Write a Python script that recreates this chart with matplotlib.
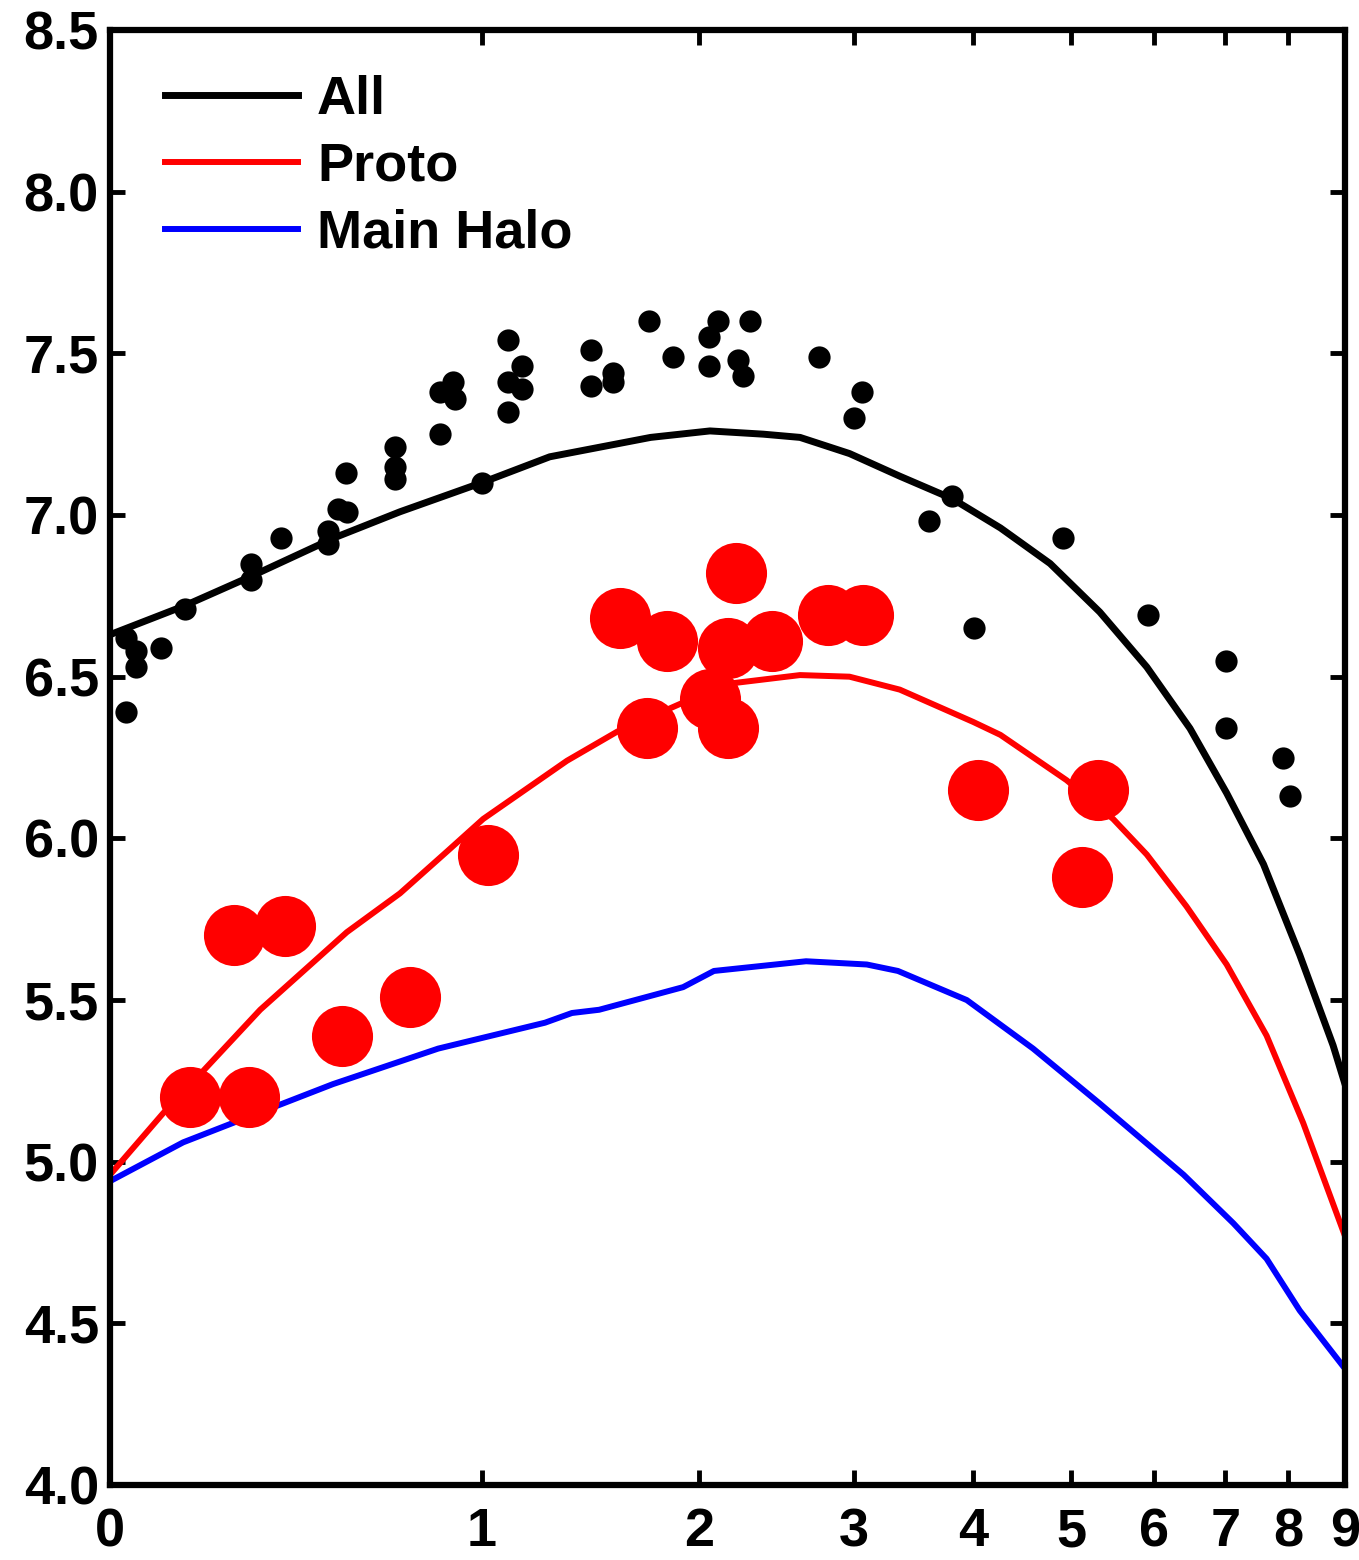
import numpy as np
import matplotlib
matplotlib.use("Agg")
import matplotlib.pyplot as plt

plt.rcParams['font.family'] = ['Liberation Sans', 'DejaVu Sans']
plt.rcParams['font.weight'] = 'bold'

# redshift ticks
z_ticks = [0, 1, 2, 3, 4, 5, 6, 7, 8, 9]
y_ticks = [4.0, 4.5, 5.0, 5.5, 6.0, 6.5, 7.0, 7.5, 8.0, 8.5]

# black points (All)
all_z = [0.03, 0.05, 0.05, 0.03, 0.10, 0.15, 0.30, 0.30, 0.375, 0.50, 0.50, 0.53,
         0.556, 0.553, 0.70, 0.70, 0.70, 0.85, 0.85, 0.896, 0.903, 1.00, 1.10, 1.157,
         1.10, 1.157, 1.10, 1.45, 1.45, 1.554, 1.554, 1.73, 1.857, 2.107, 2.055, 2.055,
         2.30, 2.225, 2.255, 2.75, 3.06, 3.00, 3.60, 3.81, 4.91, 4.01, 5.92, 7.01, 7.01,
         7.91, 8.03]
all_y = [6.62, 6.58, 6.53, 6.39, 6.59, 6.71, 6.85, 6.80, 6.93, 6.95, 6.91, 7.02,
         7.01, 7.13, 7.21, 7.15, 7.11, 7.25, 7.38, 7.41, 7.36, 7.10, 7.54, 7.46,
         7.41, 7.39, 7.32, 7.51, 7.40, 7.44, 7.41, 7.60, 7.49, 7.60, 7.55, 7.46,
         7.60, 7.48, 7.43, 7.49, 7.38, 7.30, 6.98, 7.06, 6.93, 6.65, 6.69, 6.55, 6.34,
         6.25, 6.13]

# red points (Proto)
proto_z = [0.161, 0.296, 0.260, 0.386, 0.541, 0.750, 1.023, 1.588, 1.825, 2.213,
           2.165, 2.436, 2.06, 1.722, 2.165, 2.814, 3.07, 4.045, 5.31, 5.12]
proto_y = [5.20, 5.20, 5.70, 5.73, 5.39, 5.51, 5.95, 6.68, 6.61, 6.82,
           6.59, 6.61, 6.43, 6.34, 6.34, 6.69, 6.69, 6.15, 6.15, 5.88]

# model curves
line_all_z = [0, 0.15, 0.30, 0.52, 0.717, 1.0, 1.27, 1.74, 2.06, 2.38, 2.62, 2.97,
              3.36, 3.81, 4.26, 4.77, 5.33, 5.91, 6.49, 7.02, 7.59, 8.19, 8.78, 9.0]
line_all_y = [6.63, 6.72, 6.81, 6.93, 7.01, 7.10, 7.18, 7.24, 7.26, 7.25, 7.24, 7.19,
              7.12, 7.05, 6.96, 6.85, 6.70, 6.53, 6.34, 6.14, 5.92, 5.64, 5.36, 5.24]

line_proto_z = [0, 0.104, 0.189, 0.323, 0.555, 0.717, 0.875, 1.005, 1.344, 1.574,
                1.911, 2.195, 2.62, 2.97, 3.36, 4.0, 4.26, 4.95, 5.49, 5.91, 6.44,
                7.02, 7.64, 8.25, 9.0]
line_proto_y = [4.96, 5.15, 5.28, 5.47, 5.71, 5.83, 5.96, 6.06, 6.24, 6.33,
                6.42, 6.48, 6.505, 6.50, 6.46, 6.36, 6.32, 6.18, 6.06, 5.95, 5.79,
                5.61, 5.39, 5.12, 4.77]

line_halo_z = [0, 0.146, 0.297, 0.515, 0.844, 1.25, 1.366, 1.489, 1.911, 2.083,
               2.661, 3.10, 3.345, 3.94, 4.59, 5.33, 6.40, 7.12, 7.64, 8.19, 9.0]
line_halo_y = [4.94, 5.06, 5.14, 5.24, 5.35, 5.43, 5.46, 5.47, 5.54, 5.59,
               5.62, 5.61, 5.59, 5.50, 5.35, 5.18, 4.96, 4.81, 4.70, 4.54, 4.36]


def fwd(z):
    return np.log10(1 + np.asarray(z, dtype=float))


def inv(u):
    return 10 ** np.asarray(u, dtype=float) - 1


fig = plt.figure(figsize=(13.59, 15.60), dpi=100)
ax = fig.add_axes([0.081, 0.048, 0.9087, 0.9328])
ax.set_xscale('function', functions=(fwd, inv))

ax.plot(line_all_z, line_all_y, color='black', lw=5, label='All',
        solid_joinstyle='round')
ax.plot(line_proto_z, line_proto_y, color='red', lw=4.3, label='Proto',
        solid_joinstyle='round')
ax.plot(line_halo_z, line_halo_y, color='blue', lw=4.3, label='Main Halo',
        solid_joinstyle='round')

ax.scatter(all_z, all_y, s=16 ** 2, color='black', zorder=3, linewidths=0)
ax.scatter(proto_z, proto_y, s=44 ** 2, color='red', zorder=4, linewidths=0)

ax.set_xlim(0, 9)
ax.set_ylim(4.0, 8.5)
ax.set_xticks(z_ticks)
ax.set_xticklabels([str(t) for t in z_ticks])
ax.set_yticks(y_ticks)
ax.set_yticklabels(['%.1f' % t for t in y_ticks])

for s in ax.spines.values():
    s.set_linewidth(4.5)
ax.tick_params(direction='in', length=11, width=3.5, top=True, right=True,
               labelsize=39, pad=8)
ax.tick_params(axis='x', pad=16)
for lab in ax.get_xticklabels() + ax.get_yticklabels():
    lab.set_fontweight('bold')

leg = ax.legend(loc='upper left', frameon=False, fontsize=39, handlelength=2.45,
                handletextpad=0.35, labelspacing=0.31, borderaxespad=0.3,
                bbox_to_anchor=(0.014, 0.995))
for t in leg.get_texts():
    t.set_fontweight('bold')

plt.savefig('out.png', dpi=100)
